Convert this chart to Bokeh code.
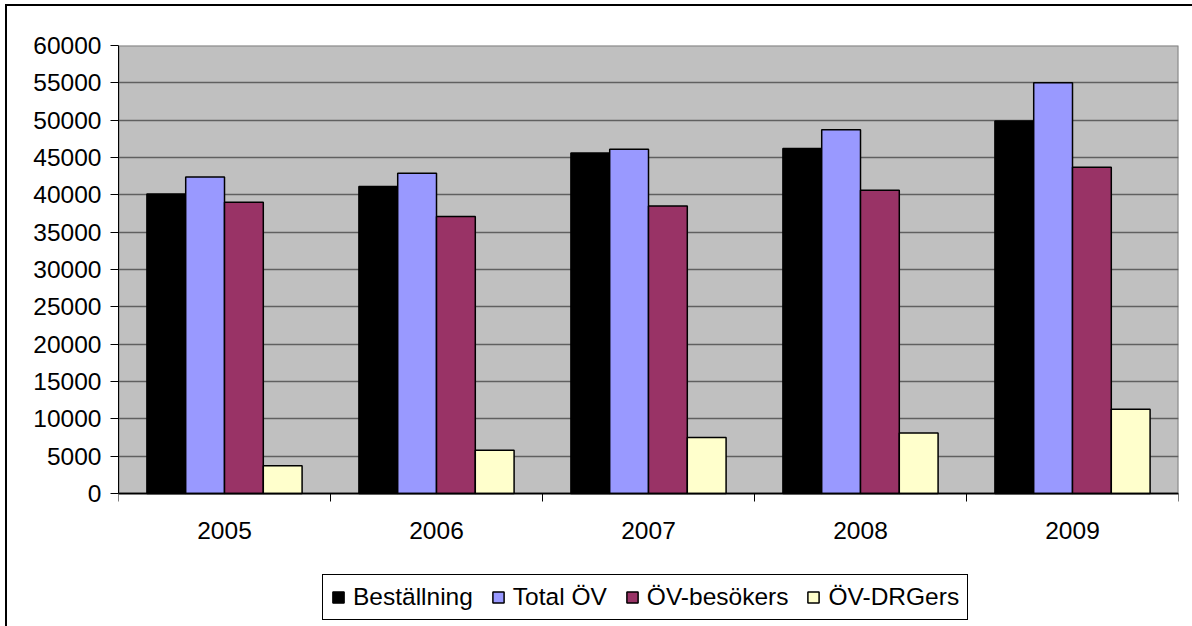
import math
from bokeh.plotting import figure
from bokeh.models import (ColumnDataSource, Range1d, FixedTicker, Legend,
                          LegendItem, BoxAnnotation, Span)
from bokeh.core.properties import value
from bokeh.transform import dodge
from bokeh.embed import file_html
from bokeh.resources import INLINE

years = ["2005", "2006", "2007", "2008", "2009"]
bestallning = [40100, 41100, 45600, 46200, 49900]
total_ov = [42400, 42900, 46100, 48700, 55000]
ov_besokers = [39000, 37100, 38500, 40600, 43700]
ov_drgers = [3700, 5800, 7500, 8100, 11300]
series_names = ["Beställning", "Total ÖV", "ÖV-besökers", "ÖV-DRGers"]
series_colors = ["#000000", "#9999FF", "#993366", "#FFFFCC"]
y_ticks = [0, 5000, 10000, 15000, 20000, 25000, 30000, 35000, 40000,
           45000, 50000, 55000, 60000]

FONT = "Liberation Sans"
FS = "24.5px"

# each category occupies 2 x-units: boundaries at even, centres at odd values
n = len(years)
centres = [2 * i + 1 for i in range(n)]
edges = [2 * i for i in range(n + 1)]

Y_MAX = 60000
PLOT_H = 448          # pixel height of the value area
BELOW_H = 133         # pixels below zero reserved for labels and legend
y_start = -Y_MAX * BELOW_H / PLOT_H

source = ColumnDataSource(dict(xc=centres, s0=bestallning, s1=total_ov,
                               s2=ov_besokers, s3=ov_drgers,
                               base=[0] * n, yr=years))
edge_src = ColumnDataSource(dict(xe=edges, base=[0] * len(edges)))

p = figure(x_range=Range1d(0, 2 * n), y_range=Range1d(y_start, Y_MAX),
           frame_width=1060, frame_height=PLOT_H + BELOW_H,
           output_backend="svg", toolbar_location=None,
           x_axis_location=None,
           min_border_left=111, min_border_right=14, min_border_top=39,
           min_border_bottom=0,
           background_fill_color="white", border_fill_color="white",
           outline_line_color=None)
p.styles = {"border-top": "2px solid #000000", "border-left": "2px solid #000000",
            "margin-left": "5px", "margin-top": "4px"}

# grey plot area
p.add_layout(BoxAnnotation(left=0, right=2 * n, bottom=0, top=Y_MAX,
                           fill_color="#C0C0C0", fill_alpha=1,
                           line_color="#808080", line_width=2, line_alpha=1,
                           level="image"))

bw = 0.366
offsets = [-1.5 * bw, -0.5 * bw, 0.5 * bw, 1.5 * bw]
renderers = []
for i, (name, col) in enumerate(zip(series_names, series_colors)):
    r = p.vbar(x=dodge("xc", offsets[i]), top="s%d" % i, bottom="base",
               width=bw, source=source, fill_color=col, line_color="black",
               line_width=1.5)
    renderers.append(r)

p.xgrid.grid_line_color = None

# y axis
yt = FixedTicker(ticks=y_ticks)
p.yaxis.ticker = yt
p.ygrid.ticker = yt
p.yaxis.bounds = (0, Y_MAX)
p.yaxis.major_tick_out = 8
p.yaxis.major_tick_in = 0
p.yaxis.minor_tick_line_color = None
p.yaxis.axis_line_color = "black"
p.yaxis.major_tick_line_color = "black"
p.yaxis.major_label_text_font = FONT
p.yaxis.major_label_text_font_size = FS
p.yaxis.major_label_text_color = "black"
p.yaxis.major_label_standoff = 9
p.ygrid.grid_line_color = "#606060"
p.ygrid.grid_line_width = 1.5

# x axis line at zero, boundary ticks and year labels
p.add_layout(Span(location=0, dimension="width", line_color="black",
                  line_width=1.5))
p.ray(x="xe", y="base", length=8, length_units="screen", angle=-math.pi / 2,
      line_color="black", line_width=1, source=edge_src)
p.text(x="xc", y="base", text="yr", source=source, y_offset=37,
       text_align="center", text_baseline="middle",
       text_font=value(FONT), text_font_size=value(FS), text_color="black")

legend = Legend(items=[LegendItem(label=nm, renderers=[r])
                       for nm, r in zip(series_names, renderers)],
                orientation="horizontal", location=(204, 6),
                border_line_color="black", border_line_width=1,
                border_line_alpha=1,
                background_fill_color="white", background_fill_alpha=1,
                label_text_font=FONT, label_text_font_size=FS,
                label_text_color="black",
                glyph_width=14, glyph_height=14, label_standoff=8,
                spacing=18, padding=8, margin=0)
p.add_layout(legend, "center")

open("out.html", "w").write(file_html(p, INLINE))
